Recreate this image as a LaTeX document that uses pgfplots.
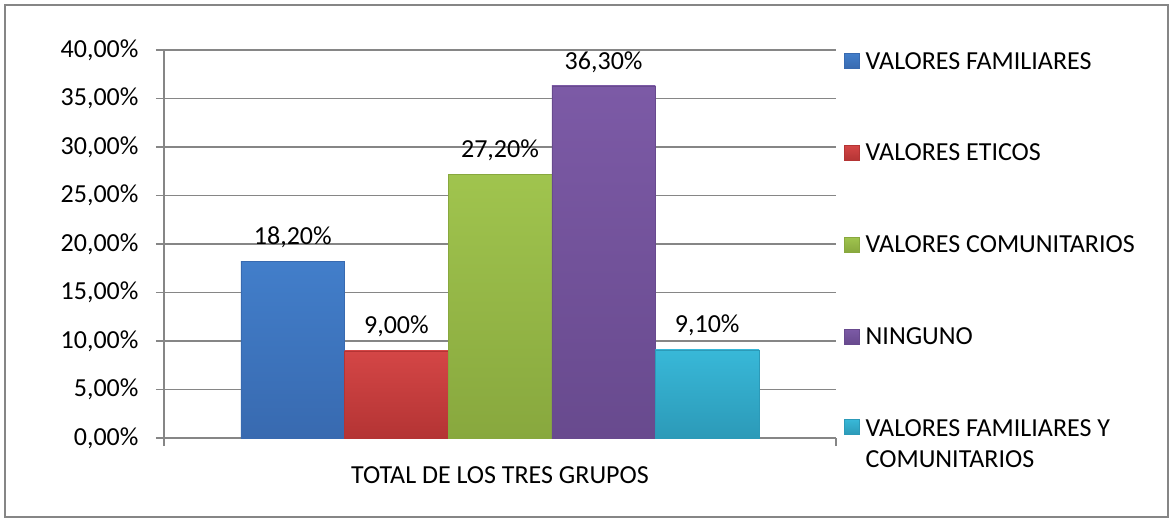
\documentclass[border=0pt]{standalone}
\usepackage{pgfplots}
\pgfplotsset{compat=1.18}
\usepackage{fontspec}
\setmainfont{Carlito}
\definecolor{cblue}{RGB}{66,126,202}
\definecolor{cblueD}{RGB}{56,106,176}
\definecolor{cred}{RGB}{212,70,70}
\definecolor{credD}{RGB}{180,52,52}
\definecolor{cgreen}{RGB}{160,196,78}
\definecolor{cgreenD}{RGB}{136,168,62}
\definecolor{cpurp}{RGB}{124,90,166}
\definecolor{cpurpD}{RGB}{104,74,142}
\definecolor{ccyan}{RGB}{56,184,216}
\definecolor{ccyanD}{RGB}{44,154,184}
\definecolor{cgrid}{RGB}{134,134,134}
\pgfplotsset{
  legsq/.style={legend image code/.code={\fill[##1] (0pt,-7pt) rectangle (15pt,8pt);}},
  legsqhigh/.style={legend image code/.code={\fill[##1] (0pt,10pt) rectangle (15pt,25pt);}},
}
\begin{document}
\begin{tikzpicture}
\useasboundingbox (-164pt,-85pt) rectangle (1010pt,438pt);
\draw[cgrid, line width=1.2pt] (-159pt,-79pt) rectangle (1004pt,433pt);
\begin{axis}[
  at={(0pt,0pt)}, anchor=south west, scale only axis,
  width=672pt, height=388pt,
  font=\fontsize{26}{31}\selectfont,
  xmin=-3.243, xmax=3.243, ymin=0, ymax=40,
  ybar, bar width=1, bar shift=0pt,
  axis lines*=left,
  axis line style={cgrid, line width=1.2pt},
  ymajorgrids, grid style={cgrid, line width=1.2pt},
  tick style={cgrid, line width=1.2pt},
  tick align=outside, major tick length=8pt,
  ytick={0,5,10,15,20,25,30,35,40},
  yticklabels={{0,00\%},{5,00\%},{10,00\%},{15,00\%},{20,00\%},{25,00\%},{30,00\%},{35,00\%},{40,00\%}},
  yticklabel style={xshift=-14pt},
  xtick={-3.243,3.243}, xticklabels={},
  extra x ticks={0}, extra x tick labels={TOTAL DE LOS TRES GRUPOS},
  extra x tick style={major tick length=0pt, grid=none},
  xticklabel style={yshift=-25pt},
  nodes near coords, point meta=explicit symbolic,
  nodes near coords style={anchor=south, text=black, font=\fontsize{26}{31}\selectfont, yshift=10pt},
  legend style={at={(1.012,1.0)}, anchor=north west, draw=none, fill=none,
    row sep=69.5pt, column sep=4pt, inner sep=0pt, nodes={inner sep=2pt, text=black},
    cells={align=left}, font=\fontsize{26}{31}\selectfont},
  legend cell align=left,
  legsq,
]
\addplot[top color=cblue, bottom color=cblueD, draw=cblueD] coordinates {(-2,18.2) [18,20\%]};
\addlegendentry{VALORES FAMILIARES}
\addplot[top color=cred, bottom color=credD, draw=credD] coordinates {(-1,9.0) [9,00\%]};
\addlegendentry{VALORES ETICOS}
\addplot[top color=cgreen, bottom color=cgreenD, draw=cgreenD] coordinates {(0,27.2) [27,20\%]};
\addlegendentry{VALORES COMUNITARIOS}
\addplot[top color=cpurp, bottom color=cpurpD, draw=cpurpD] coordinates {(1,36.3) [36,30\%]};
\addlegendentry{NINGUNO}
\addplot[top color=ccyan, bottom color=ccyanD, draw=ccyanD, legsqhigh] coordinates {(2,9.1) [9,10\%]};
\addlegendentry{VALORES FAMILIARES Y\\COMUNITARIOS}
\end{axis}
\end{tikzpicture}
\end{document}
